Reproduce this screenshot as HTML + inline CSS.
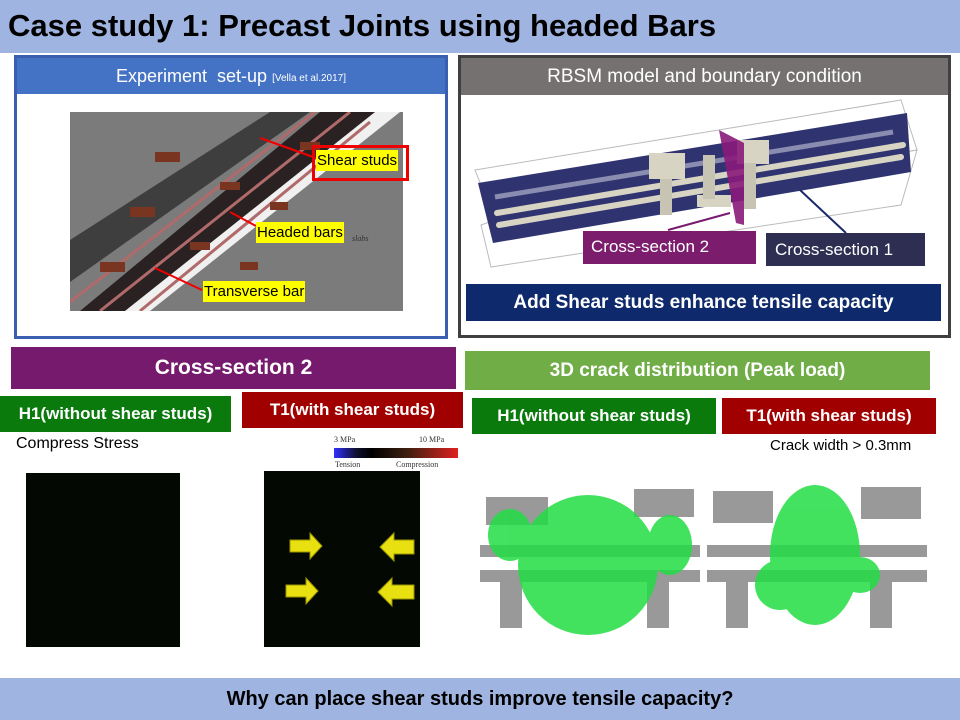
<!DOCTYPE html>
<html><head><meta charset="utf-8"><style>
*{margin:0;padding:0;box-sizing:border-box}
body{width:960px;height:720px;position:relative;background:#fff;font-family:"Liberation Sans","DejaVu Sans",sans-serif;overflow:hidden}
.a{position:absolute}
.c{display:flex;align-items:center;justify-content:center;color:#fff;font-weight:bold;white-space:nowrap}
</style></head><body>
<div class="a" style="left:0;top:0;width:960px;height:53px;background:#9fb4e0"></div>
<div class="a" style="left:8px;top:8px;font-size:31px;font-weight:bold;color:#000">Case study 1: Precast Joints using headed Bars</div>

<!-- left panel -->
<div class="a" style="left:14px;top:55px;width:434px;height:284px;border:3px solid #3a5fb0;background:#fff"></div>
<div class="a c" style="left:17px;top:58px;width:428px;height:36px;background:#4472c4;font-weight:normal;font-size:18px">Experiment&nbsp; set-up&nbsp;<span style="font-size:10px;margin-top:4px">[Vella et al.2017]</span></div>
<svg class="a" style="left:70px;top:112px" width="333" height="199">
<rect width="333" height="199" fill="#7b7b7b"/>
<polygon points="0,128 200,0 240,0 0,170" fill="#3e3e3e"/>
<polygon points="40,199 300,0 330,0 80,199" fill="#f0f0f0"/>
<polygon points="10,199 250,0 305,0 55,199" fill="#2a2222"/>
<g stroke="#b06a6a" stroke-width="3"><line x1="0" y1="190" x2="245" y2="0"/><line x1="30" y1="199" x2="280" y2="0"/><line x1="70" y1="199" x2="300" y2="10"/></g>
<g fill="#7a3520"><rect x="85" y="40" width="25" height="10"/><rect x="60" y="95" width="25" height="10"/><rect x="30" y="150" width="25" height="10"/><rect x="150" y="70" width="20" height="8"/><rect x="120" y="130" width="20" height="8"/><rect x="230" y="30" width="20" height="8"/><rect x="200" y="90" width="18" height="8"/><rect x="170" y="150" width="18" height="8"/></g>
<g stroke="#e00" stroke-width="2"><line x1="246" y1="46" x2="190" y2="26"/><line x1="186" y1="114" x2="160" y2="100"/><line x1="132" y1="178" x2="85" y2="156"/></g>
</svg>
<div class="a" style="left:312px;top:145px;width:97px;height:36px;border:3px solid #e00"></div>
<div class="a" style="left:316px;top:150px;background:#ff0;font-size:15px;padding:2px 1px">Shear studs</div>
<div class="a" style="left:256px;top:222px;background:#ff0;font-size:15px;padding:2px 1px">Headed bars</div>
<div class="a" style="left:352px;top:234px;font-size:8px;font-style:italic;color:#333;font-family:'Liberation Serif',serif">slabs</div>
<div class="a" style="left:203px;top:281px;background:#ff0;font-size:15px;padding:2px 1px">Transverse bar</div>

<!-- right panel -->
<div class="a" style="left:458px;top:55px;width:493px;height:283px;border:3px solid #404040;background:#fff"></div>
<div class="a c" style="left:461px;top:58px;width:487px;height:37px;background:#767171;font-weight:normal;font-size:19px">RBSM model and boundary condition</div>
<svg class="a" style="left:461px;top:95px" width="487" height="190">
<polygon points="14,75 440,5 456,55 34,125" fill="none" stroke="#bbb"/>
<polygon points="20,130 34,125 456,55 440,110 30,172" fill="none" stroke="#bbb"/>
<polygon points="17,88 446,18 450,77 32,148" fill="#2f3470"/>
<line x1="34" y1="102" x2="432" y2="37" stroke="#8a8cb0" stroke-width="5"/>
<g stroke="#d8d4c4" stroke-width="6" stroke-linecap="round"><line x1="36" y1="118" x2="442" y2="50"/><line x1="38" y1="130" x2="440" y2="62"/></g>
<rect x="188" y="58" width="36" height="26" fill="#d8d4c4"/><rect x="276" y="45" width="32" height="24" fill="#d8d4c4"/>
<rect x="236" y="100" width="34" height="12" fill="#d8d4c4"/>
<g fill="#c8c4b4"><rect x="199" y="84" width="12" height="36"/><rect x="242" y="60" width="12" height="44"/><rect x="283" y="68" width="12" height="46"/></g>
<polygon points="258,35 283,48 283,130 275,128" fill="#8a1a7a" opacity=".9"/>
<line x1="207" y1="135" x2="269" y2="118" stroke="#7a1a6e" stroke-width="2"/>
<line x1="385" y1="138" x2="339" y2="95" stroke="#1a2a6a" stroke-width="2"/>
</svg>
<div class="a" style="left:583px;top:231px;width:173px;height:33px;background:#7b1c6d;color:#fff;font-size:17px;padding:6px 0 0 8px">Cross-section 2</div>
<div class="a" style="left:766px;top:233px;width:159px;height:33px;background:#2d2e52;color:#fff;font-size:17px;padding:7px 0 0 9px">Cross-section 1</div>
<div class="a c" style="left:466px;top:284px;width:475px;height:37px;background:#0e2a6c;font-size:19px">Add Shear studs enhance tensile capacity</div>

<!-- bottom left -->
<div class="a c" style="left:11px;top:347px;width:445px;height:42px;background:#751a6c;font-size:21px">Cross-section 2</div>
<div class="a c" style="left:0;top:396px;width:231px;height:36px;background:#0a7a0d;font-size:17px">H1(without shear studs)</div>
<div class="a c" style="left:242px;top:392px;width:221px;height:36px;background:#a00000;font-size:17px">T1(with shear studs)</div>
<div class="a" style="left:16px;top:435px;font-size:16px">Compress Stress</div>
<div class="a" style="left:334px;top:435px;font-size:8px;font-family:'Liberation Serif',serif;color:#333">3 MPa</div>
<div class="a" style="left:419px;top:435px;font-size:8px;font-family:'Liberation Serif',serif;color:#333">10 MPa</div>
<div class="a" style="left:334px;top:448px;width:124px;height:10px;background:linear-gradient(90deg,#3030ff,#101030 18%,#000 30%,#402010 60%,#e02020)"></div>
<div class="a" style="left:335px;top:460px;font-size:8px;font-family:'Liberation Serif',serif;color:#333">Tension</div>
<div class="a" style="left:396px;top:460px;font-size:8px;font-family:'Liberation Serif',serif;color:#333">Compression</div>
<div class="a" style="left:26px;top:473px;width:154px;height:174px;background:#030803"></div>
<div class="a" style="left:264px;top:471px;width:156px;height:176px;background:#030803"></div>
<svg class="a" style="left:264px;top:471px" width="156" height="176">
<g fill="#e8e010" stroke="#9a9400" stroke-width="1">
<polygon points="26,69 46,69 46,62 58,75 46,88 46,81 26,81"/>
<polygon points="22,114 42,114 42,107 54,120 42,133 42,126 22,126"/>
<polygon points="150,69 130,69 130,62 116,76 130,90 130,83 150,83"/>
<polygon points="150,114 128,114 128,107 114,121 128,135 128,128 150,128"/>
</g></svg>

<!-- bottom right -->
<div class="a c" style="left:465px;top:351px;width:465px;height:39px;background:#70ad47;font-size:19px">3D crack distribution (Peak load)</div>
<div class="a c" style="left:472px;top:398px;width:244px;height:36px;background:#0a7a0d;font-size:17px">H1(without shear studs)</div>
<div class="a c" style="left:722px;top:398px;width:214px;height:36px;background:#a00000;font-size:17px">T1(with shear studs)</div>
<div class="a" style="left:770px;top:437px;font-size:15px">Crack width &gt; 0.3mm</div>
<svg class="a" style="left:480px;top:475px" width="450" height="170">
<g fill="#999"><rect x="0" y="70" width="220" height="12"/><rect x="0" y="95" width="220" height="12"/><rect x="227" y="70" width="220" height="12"/><rect x="227" y="95" width="220" height="12"/>
<rect x="20" y="105" width="22" height="48"/><rect x="167" y="105" width="22" height="48"/><rect x="246" y="105" width="22" height="48"/><rect x="390" y="105" width="22" height="48"/>
<rect x="6" y="22" width="62" height="28"/><rect x="154" y="14" width="60" height="28"/><rect x="233" y="16" width="60" height="32"/><rect x="381" y="12" width="60" height="32"/></g>
<g fill="#22dd44" opacity=".85">
<ellipse cx="108" cy="90" rx="70" ry="70"/><ellipse cx="30" cy="60" rx="22" ry="26"/><ellipse cx="190" cy="70" rx="22" ry="30"/>
<ellipse cx="335" cy="80" rx="45" ry="70"/><ellipse cx="300" cy="110" rx="25" ry="25"/><ellipse cx="380" cy="100" rx="20" ry="18"/>
</g></svg>

<div class="a" style="left:0;top:678px;width:960px;height:42px;background:#9fb4e0"></div>
<div class="a c" style="left:0;top:678px;width:960px;height:42px;color:#000;font-size:20px">Why can place shear studs improve tensile capacity?</div>
</body></html>
